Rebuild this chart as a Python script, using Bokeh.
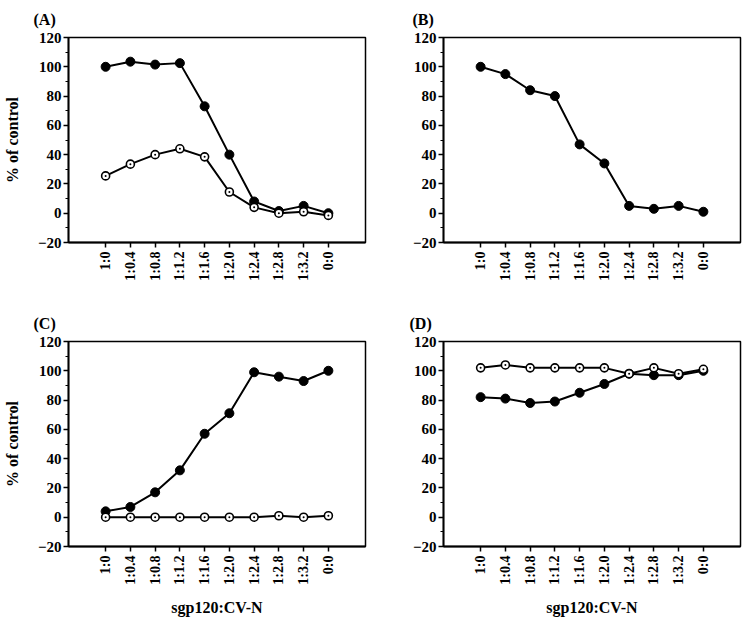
import math
from bokeh.plotting import figure
from bokeh.layouts import column, row
from bokeh.models import FactorRange, Range1d, FixedTicker
from bokeh.embed import file_html
from bokeh.resources import INLINE

ratios = ["1:0", "1:0.4", "1:0.8", "1:1.2", "1:1.6", "1:2.0", "1:2.4", "1:2.8", "1:3.2", "0:0"]

a_filled = [100, 103.5, 101.5, 102.5, 73, 40, 8, 1.5, 5, 0]
a_open = [25.5, 33.5, 40, 44, 38.5, 14.5, 4, 0, 1, -1.5]
b_filled = [100, 95, 84, 80, 47, 34, 5, 3, 5, 1]
c_filled = [4, 7, 17, 32, 57, 71, 99, 96, 93, 100]
c_open = [0, 0, 0, 0, 0, 0, 0, 1, 0, 1]
d_filled = [82, 81, 78, 79, 85, 91, 98, 97, 97, 100]
d_open = [102, 104, 102, 102, 102, 102, 98, 102, 98, 101]

y_ticks = [-20, 0, 20, 40, 60, 80, 100, 120]
y_minor = [-20, -10, 0, 10, 20, 30, 40, 50, 60, 70, 80, 90, 100, 110, 120]

FONT = "Liberation Serif"
FRAME_W, FRAME_H = 297, 205


def panel(letter, filled, opened, ylabel, xlabel, right_border, bottom_border, title_offset):
    p = figure(
        x_range=FactorRange(factors=ratios, range_padding=0.2),
        y_range=Range1d(-20, 120),
        frame_width=FRAME_W, frame_height=FRAME_H,
        min_border_left=68, min_border_right=right_border,
        min_border_top=37, min_border_bottom=bottom_border,
        output_backend="svg", toolbar_location=None,
        title=letter,
    )
    p.title.text_font = FONT
    p.title.text_font_size = "16px"
    p.title.text_font_style = "bold"
    p.title.text_color = "black"
    p.title.align = "left"
    p.title.vertical_align = "top"
    p.title.offset = title_offset
    p.title.standoff = 15
    p.grid.visible = False
    p.outline_line_color = "black"
    p.outline_line_width = 1.5
    p.background_fill_color = "white"
    p.border_fill_color = "white"

    p.yaxis.ticker = FixedTicker(ticks=y_ticks, minor_ticks=y_minor)
    for ax in (p.xaxis[0], p.yaxis[0]):
        ax.axis_line_width = 1.8
        ax.axis_line_color = "black"
        ax.major_tick_in = 0
        ax.major_tick_out = 5
        ax.major_tick_line_width = 1.5
        ax.minor_tick_in = 0
        ax.minor_tick_out = 3
        ax.minor_tick_line_width = 1.2
        ax.major_label_text_font = FONT
        ax.major_label_text_font_style = "bold"
        ax.major_label_text_color = "black"
        ax.axis_label_text_font = FONT
        ax.axis_label_text_font_style = "bold"
        ax.axis_label_text_font_size = "16px"
        ax.axis_label_text_color = "black"
    p.yaxis.major_label_text_font_size = "15px"
    p.yaxis.major_label_standoff = 2
    p.xaxis.major_label_text_font_size = "14px"
    p.xaxis.major_label_orientation = math.pi / 2
    p.xaxis.major_label_standoff = 4
    if ylabel:
        p.yaxis.axis_label = ylabel
        p.yaxis.axis_label_standoff = 14
    if xlabel:
        p.xaxis.axis_label = xlabel
        p.xaxis.axis_label_standoff = 11

    p.line(x=ratios, y=filled, line_width=2, line_color="black")
    if opened is not None:
        p.line(x=ratios, y=opened, line_width=2, line_color="black")
    p.scatter(x=ratios, y=filled, marker="circle", size=9, fill_color="black", line_color="black")
    if opened is not None:
        p.scatter(x=ratios, y=opened, marker="circle_dot", size=8, fill_color="white",
                  line_color="black", line_width=1.6)
    return p


pA = panel("(A)", a_filled, a_open, "% of control", None, 10, 62, -35)
pB = panel("(B)", b_filled, None, None, None, 6, 62, -31)
pC = panel("(C)", c_filled, c_open, "% of control", "sgp120:CV-N", 10, 70, -35)
pD = panel("(D)", d_filled, d_open, None, "sgp120:CV-N", 6, 70, -34)

layout = column(row(pA, pB), row(pC, pD))

html = file_html(layout, INLINE)
with open("out.html", "w") as f:
    f.write(html)
